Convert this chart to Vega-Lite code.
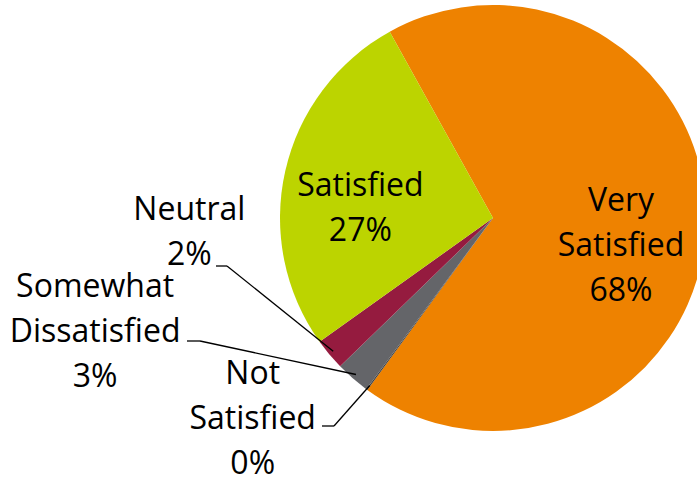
{
  "$schema": "https://vega.github.io/schema/vega-lite/v6.json",
  "width": 697,
  "height": 478,
  "autosize": {"type": "none"},
  "padding": 0,
  "background": "white",
  "config": {"view": {"stroke": null}},
  "data": {"values": [
    {"category": "Very Satisfied", "value": 68.1},
    {"category": "Not Satisfied", "value": 0.1},
    {"category": "Somewhat Dissatisfied", "value": 2.6},
    {"category": "Neutral", "value": 2.4},
    {"category": "Satisfied", "value": 26.8}
  ]},
  "transform": [
    {"window": [{"op": "sum", "field": "value", "as": "v1"}], "frame": [null, 0]},
    {"calculate": "datum.v1 - datum.value", "as": "v0"},
    {"calculate": "(datum.v0 + datum.v1) / 2", "as": "mid"},
    {"calculate": "datum.category + ' ' + round(datum.value) + '%'", "as": "label"}
  ],
  "layer": [
    {
      "mark": {"type": "arc", "outerRadius": 213},
      "encoding": {
        "x": {"datum": 0, "type": "quantitative", "scale": {"domain": [-493, 204], "nice": false, "zero": false}, "axis": null},
        "y": {"datum": 0, "type": "quantitative", "scale": {"domain": [-260, 218], "nice": false, "zero": false}, "axis": null},
        "theta": {"field": "v0", "type": "quantitative", "scale": {"domain": [0, 100], "range": [5.777, 12.0602]}},
        "theta2": {"field": "v1"},
        "color": {"field": "category", "type": "nominal", "legend": null,
          "scale": {"domain": ["Very Satisfied", "Not Satisfied", "Somewhat Dissatisfied", "Neutral", "Satisfied"],
                    "range": ["#EE8200", "#404040", "#646569", "#951B3F", "#BCD400"]}}
      }
    },
    {
      "transform": [{"filter": "datum.category === 'Very Satisfied'"}],
      "mark": {"type": "text", "radius": 131, "thetaOffset": 0.152, "dy": -45, "font": "Open Sans", "fontSize": 32, "lineHeight": 45, "lineBreak": " ", "align": "center", "baseline": "middle", "color": "black"},
      "encoding": {
        "x": {"datum": 0, "type": "quantitative", "scale": {"domain": [-493, 204], "nice": false, "zero": false}, "axis": null},
        "y": {"datum": 0, "type": "quantitative", "scale": {"domain": [-260, 218], "nice": false, "zero": false}, "axis": null},
        "theta": {"field": "mid", "type": "quantitative", "stack": null, "scale": {"domain": [0, 100], "range": [5.777, 12.0602]}},
        "text": {"field": "label"}
      }
    },
    {
      "transform": [{"filter": "datum.category === 'Satisfied'"}],
      "mark": {"type": "text", "radius": 133, "thetaOffset": -0.148, "dy": -22.5, "font": "Open Sans", "fontSize": 32, "lineHeight": 45, "lineBreak": " ", "align": "center", "baseline": "middle", "color": "black"},
      "encoding": {
        "x": {"datum": 0, "type": "quantitative", "scale": {"domain": [-493, 204], "nice": false, "zero": false}, "axis": null},
        "y": {"datum": 0, "type": "quantitative", "scale": {"domain": [-260, 218], "nice": false, "zero": false}, "axis": null},
        "theta": {"field": "mid", "type": "quantitative", "stack": null, "scale": {"domain": [0, 100], "range": [5.777, 12.0602]}},
        "text": {"field": "label"}
      }
    },
    {
      "transform": [{"filter": "datum.category === 'Neutral'"}],
      "mark": {"type": "text", "radius": 304, "thetaOffset": 0.646, "dy": -22.5, "font": "Open Sans", "fontSize": 32, "lineHeight": 45, "lineBreak": " ", "align": "center", "baseline": "middle", "color": "black"},
      "encoding": {
        "x": {"datum": 0, "type": "quantitative", "scale": {"domain": [-493, 204], "nice": false, "zero": false}, "axis": null},
        "y": {"datum": 0, "type": "quantitative", "scale": {"domain": [-260, 218], "nice": false, "zero": false}, "axis": null},
        "theta": {"field": "mid", "type": "quantitative", "stack": null, "scale": {"domain": [0, 100], "range": [5.777, 12.0602]}},
        "text": {"field": "label"}
      }
    },
    {
      "transform": [{"filter": "datum.category === 'Somewhat Dissatisfied'"}],
      "mark": {"type": "text", "radius": 414, "thetaOffset": 0.572, "dy": -45, "font": "Open Sans", "fontSize": 32, "lineHeight": 45, "lineBreak": " ", "align": "center", "baseline": "middle", "color": "black"},
      "encoding": {
        "x": {"datum": 0, "type": "quantitative", "scale": {"domain": [-493, 204], "nice": false, "zero": false}, "axis": null},
        "y": {"datum": 0, "type": "quantitative", "scale": {"domain": [-260, 218], "nice": false, "zero": false}, "axis": null},
        "theta": {"field": "mid", "type": "quantitative", "stack": null, "scale": {"domain": [0, 100], "range": [5.777, 12.0602]}},
        "text": {"field": "label"}
      }
    },
    {
      "transform": [{"filter": "datum.category === 'Not Satisfied'"}],
      "mark": {"type": "text", "radius": 313, "thetaOffset": 0.241, "dy": -45, "font": "Open Sans", "fontSize": 32, "lineHeight": 45, "lineBreak": " ", "align": "center", "baseline": "middle", "color": "black"},
      "encoding": {
        "x": {"datum": 0, "type": "quantitative", "scale": {"domain": [-493, 204], "nice": false, "zero": false}, "axis": null},
        "y": {"datum": 0, "type": "quantitative", "scale": {"domain": [-260, 218], "nice": false, "zero": false}, "axis": null},
        "theta": {"field": "mid", "type": "quantitative", "stack": null, "scale": {"domain": [0, 100], "range": [5.777, 12.0602]}},
        "text": {"field": "label"}
      }
    },
    {
      "transform": [
        {"filter": {"field": "category", "oneOf": ["Neutral", "Somewhat Dissatisfied", "Not Satisfied"]}},
        {"calculate": "5.777 + datum.mid * 0.0628319", "as": "ang"},
        {"calculate": "208 * sin(datum.ang)", "as": "xa"},
        {"calculate": "208 * cos(datum.ang)", "as": "ya"},
        {"calculate": "datum.category === 'Neutral' ? -266 : datum.category === 'Somewhat Dissatisfied' ? -293 : -159", "as": "xb"},
        {"calculate": "datum.category === 'Neutral' ? -48 : datum.category === 'Somewhat Dissatisfied' ? -123 : -208", "as": "yb"},
        {"calculate": "datum.xb - (datum.category === 'Neutral' ? 11 : datum.category === 'Somewhat Dissatisfied' ? 13 : 12)", "as": "xc"}
      ],
      "layer": [
        {
          "mark": {"type": "rule", "color": "black", "strokeWidth": 1.3},
          "encoding": {
            "x": {"field": "xa", "type": "quantitative", "scale": {"domain": [-493, 204], "nice": false, "zero": false}, "axis": null},
            "y": {"field": "ya", "type": "quantitative", "scale": {"domain": [-260, 218], "nice": false, "zero": false}, "axis": null},
            "x2": {"field": "xb"},
            "y2": {"field": "yb"}
          }
        },
        {
          "mark": {"type": "rule", "color": "black", "strokeWidth": 1.3},
          "encoding": {
            "x": {"field": "xb", "type": "quantitative", "scale": {"domain": [-493, 204], "nice": false, "zero": false}, "axis": null},
            "y": {"field": "yb", "type": "quantitative", "scale": {"domain": [-260, 218], "nice": false, "zero": false}, "axis": null},
            "x2": {"field": "xc"},
            "y2": {"field": "yb"}
          }
        }
      ]
    }
  ]
}
